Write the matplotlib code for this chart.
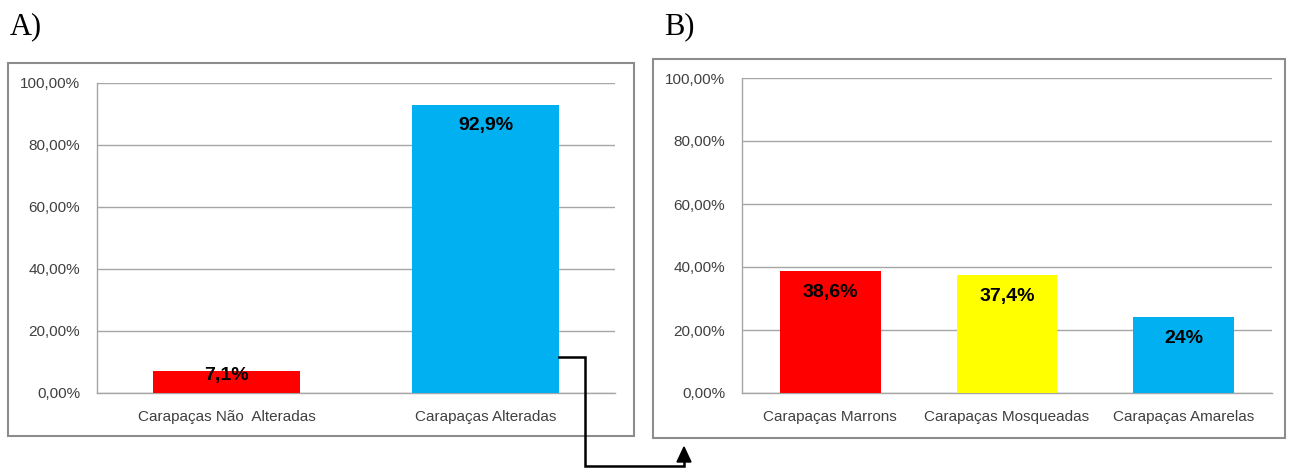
import matplotlib
matplotlib.use("Agg")
import matplotlib.pyplot as plt
from matplotlib.patches import Rectangle
from matplotlib.lines import Line2D
from matplotlib.ticker import FuncFormatter

# Panel A
cats_a = ["Carapaças Não  Alteradas", "Carapaças Alteradas"]
vals_a = [7.1, 92.9]
labels_a = ["7,1%", "92,9%"]
colors_a = ["#ff0000", "#00b0f0"]

# Panel B
cats_b = ["Carapaças Marrons", "Carapaças Mosqueadas", "Carapaças Amarelas"]
vals_b = [38.6, 37.4, 24.0]
labels_b = ["38,6%", "37,4%", "24%"]
colors_b = ["#ff0000", "#ffff00", "#00b0f0"]

yticks = [0, 20, 40, 60, 80, 100]

W, H = 1294, 468
GRID = "#a6a6a6"
TXT = "#404040"
SANS = ["Liberation Sans", "DejaVu Sans"]


def pct_fmt(v, _pos):
    return f"{v:.2f}%".replace(".", ",")


def draw_panel(ax, cats, vals, labels, colors, width):
    x = list(range(len(cats)))
    bars = ax.bar(x, vals, width=width, color=colors, zorder=3)
    ax.set_xlim(-0.5, len(cats) - 0.5)
    ax.set_ylim(0, 100)
    ax.set_yticks(yticks)
    ax.yaxis.set_major_formatter(FuncFormatter(pct_fmt))
    ax.set_xticks(x)
    ax.set_xticklabels(cats)
    ax.grid(axis="y", color=GRID, linewidth=1.0, zorder=0)
    ax.tick_params(axis="both", length=0, labelsize=11, labelcolor=TXT)
    ax.tick_params(axis="y", pad=12)
    ax.tick_params(axis="x", pad=12)
    for lab in ax.get_xticklabels() + ax.get_yticklabels():
        lab.set_family(SANS)
    for side in ["top", "right"]:
        ax.spines[side].set_visible(False)
    for side in ["left", "bottom"]:
        ax.spines[side].set_color(GRID)
        ax.spines[side].set_linewidth(1.0)
    for bar, v, lab in zip(bars, vals, labels):
        # short bars get the label right at the top, like Excel does
        off = -15 if v > 12 else -3
        ax.annotate(lab, (bar.get_x() + bar.get_width() / 2, v),
                    xytext=(0, off), textcoords="offset points",
                    ha="center", va="center", fontsize=14, fontweight="bold",
                    family=SANS, color="black", zorder=4)
    return bars


fig = plt.figure(figsize=(W / 100, H / 100), dpi=100)
fig.patch.set_facecolor("white")

# chart frames
fig.add_artist(Rectangle((8 / W, 1 - 436 / H), 626 / W, 373 / H,
                         transform=fig.transFigure, fill=False,
                         edgecolor="#8c8c8c", linewidth=1.5))
fig.add_artist(Rectangle((653 / W, 1 - 438 / H), 632 / W, 379 / H,
                         transform=fig.transFigure, fill=False,
                         edgecolor="#8c8c8c", linewidth=1.5))

ax_a = fig.add_axes([97 / W, 1 - 393 / H, 518 / W, 310 / H])
ax_b = fig.add_axes([742 / W, 1 - 393 / H, 530 / W, 315 / H])

bars_a = draw_panel(ax_a, cats_a, vals_a, labels_a, colors_a, 0.57)
draw_panel(ax_b, cats_b, vals_b, labels_b, colors_b, 0.57)

fig.text(10 / W, 1 - 34 / H, "A)", fontsize=22, family=["Liberation Serif", "DejaVu Serif"],
         ha="left", va="baseline")
fig.text(664 / W, 1 - 34 / H, "B)", fontsize=22, family=["Liberation Serif", "DejaVu Serif"],
         ha="left", va="baseline")

# connector arrow from the altered-carapace bar to panel B
fig.canvas.draw()
b = bars_a[1]
sx, sy = ax_a.transData.transform((b.get_x() + b.get_width(), 11.5))
sx, sy = sx / W, sy / H
xs = [sx, 585 / W, 585 / W, 684 / W, 684 / W]
ys = [sy, sy, 1 - 466 / H, 1 - 466 / H, 1 - 458 / H]
fig.add_artist(Line2D(xs, ys, transform=fig.transFigure, color="black", linewidth=1.8,
                      solid_joinstyle="miter"))
fig.add_artist(plt.Polygon([(677 / W, 1 - 462 / H), (691 / W, 1 - 462 / H), (684 / W, 1 - 447 / H)],
                           closed=True, transform=fig.transFigure, color="black"))

fig.savefig("out.png", dpi=100)
